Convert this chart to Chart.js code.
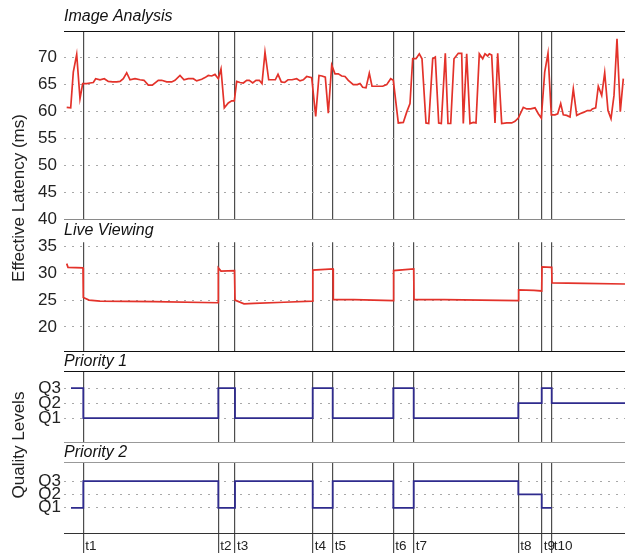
<!DOCTYPE html>
<html>
<head>
<meta charset="utf-8">
<title>Effective latency and quality levels</title>
<script src="https://cdn.jsdelivr.net/npm/chart.js@4.4.1/dist/chart.umd.min.js"></script>
<style>
  html, body { margin: 0; padding: 0; background: #fff; }
  #wrap { position: relative; width: 625px; height: 553px; overflow: hidden; font-family: 'Liberation Sans', Arial, Helvetica, sans-serif; }
  #wrap canvas { position: absolute; left: 0; }
  .axis-title { position: absolute; width: 300px; height: 20px; line-height: 20px; text-align: center; font-size: 17px; color: #222; transform: rotate(-90deg); }
</style>
</head>
<body>
<div id="wrap">
  <canvas id="analysisChart" width="625" height="232" style="top:0"></canvas>
  <canvas id="liveChart" width="625" height="145" style="top:219px"></canvas>
  <canvas id="p1Chart" width="625" height="105" style="top:351px"></canvas>
  <canvas id="p2Chart" width="625" height="111" style="top:442px"></canvas>
  <div class="axis-title" style="left:-131px; top:188px">Effective Latency (ms)</div>
  <div class="axis-title" style="left:-131px; top:435px">Quality Levels</div>
</div>

<script>
// --- donnees (temps en s) ---
const timeMin = 0;
const timeMax = 561;

const eventTimes = [19.3, 154.3, 171, 248.7, 268.7, 329.3, 349.7, 454.3, 477.7, 487.7];
const eventLabels = ['t1', 't2', 't3', 't4', 't5', 't6', 't7', 't8', 't9', 't10'];

const latencyTicksAnalysis = [40, 45, 50, 55, 60, 65, 70];
const latencyTicksLive = [20, 25, 30, 35];
const qualityTicks = [1, 2, 3];
const qualityLabels = ['Q1', 'Q2', 'Q3'];

// Image Analysis
const analysisTime = [
  2.7, 6.7, 9.3, 12.7, 16, 18.7, 22.7, 26, 29.3, 31.7, 36, 40.3, 44.3, 48.7, 52.7, 56, 59.3, 62.7, 66, 71,
  76, 80, 84.3, 88.3, 94.3, 97.7, 102.7, 107.7, 111, 116, 120, 124.3, 129.3, 132.7, 137.7, 141, 144.3, 147.7, 151, 154.3,
  157, 160.3, 164.3, 167.7, 170.3, 172.7, 176, 179.3, 182.7, 185.3, 188.7, 192, 195.3, 198, 201, 204.7, 208.7, 211.3, 214, 217.3,
  220.7, 224, 228, 232.7, 236, 239.3, 242.7, 247.7, 251.7, 255, 258, 261.3, 264.3, 267.7, 271, 274.3, 277.7, 281, 284.3, 289.3,
  293.3, 296, 298.7, 302, 305.3, 308, 312.7, 318.7, 322.7, 326.7, 329.3, 334.3, 339.3, 342.7, 346, 348.7, 352, 355.3, 358, 362,
  364.7, 368.7, 371.3, 374.7, 377.3, 381.3, 384, 386.7, 390, 394.3, 397.7, 399.3, 402.7, 406, 409.3, 412, 415.3, 418.7, 421, 423.7,
  425.3, 427.7, 431, 433.7, 437.7, 442.7, 447.7, 451, 454.3, 459.3, 462.7, 466.7, 471, 474.3, 477.3, 480.7, 484, 487.3, 491, 493.7,
  496.7, 499.3, 502.7, 506, 509.3, 512.7, 516, 520, 523.3, 526.7, 528.3, 531.7, 534.3, 537.7, 540.7, 544, 547, 550, 553, 556.3,
  559.3
];
const analysisLatency = [
  60.7, 60.6, 67.2, 70.5, 62.3, 65.1, 65.1, 65.2, 65.3, 66.0, 65.8, 66.0, 65.5, 65.4, 65.4, 65.5, 66.0, 67.1, 65.8, 66.0,
  65.8, 65.7, 64.8, 64.8, 65.7, 65.7, 65.4, 65.4, 65.7, 66.6, 65.8, 66.0, 66.0, 65.6, 65.9, 66.2, 66.6, 66.5, 66.8, 66.0,
  67.8, 60.6, 61.5, 61.9, 61.9, 65.5, 65.3, 65.2, 65.7, 65.7, 65.2, 65.7, 65.7, 65.1, 70.9, 65.8, 65.8, 65.8, 66.8, 65.4,
  65.3, 65.8, 65.8, 66.0, 65.6, 65.8, 66.4, 66.2, 59.0, 66.6, 66.5, 66.3, 59.6, 68.5, 66.9, 66.9, 66.5, 66.4, 65.7, 64.9,
  64.9, 65.1, 64.4, 64.3, 67.0, 64.6, 64.6, 64.6, 64.9, 66.0, 65.7, 57.8, 57.9, 59.8, 61.4, 69.7, 69.7, 70.6, 69.7, 57.8,
  57.7, 69.7, 70.0, 57.8, 57.7, 70.7, 57.7, 57.7, 69.7, 70.7, 70.7, 57.7, 70.6, 57.7, 57.9, 57.8, 70.6, 69.7, 70.6, 70.2,
  70.6, 70.4, 57.8, 70.7, 57.7, 57.8, 57.8, 58.1, 58.7, 60.7, 60.4, 60.4, 60.6, 59.5, 58.7, 67.2, 70.7, 59.3, 59.3, 59.5,
  61.4, 59.3, 59.2, 58.9, 64.1, 59.2, 59.5, 59.8, 60.1, 60.1, 60.4, 60.6, 64.6, 62.9, 67.1, 60.1, 58.6, 62.9, 73.4, 59.9,
  66.0
];

// Live Viewing
const liveTime = [
  2.7, 4, 19, 19.3, 25, 36, 90, 154, 154.3, 157, 170.5, 171, 180, 190, 220, 248.5, 248.8, 269, 269.3, 290,
  329.3, 329.6, 349.7, 350, 380, 454.3, 454.6, 470, 477.7, 478, 487.7, 488, 520, 561
];
const liveLatency = [
  31.8, 31.1, 31.0, 25.5, 25.0, 24.8, 24.7, 24.5, 31.0, 30.4, 30.5, 25.0, 24.3, 24.4, 24.6, 24.8, 30.6, 30.8, 25.1, 25.1,
  24.9, 30.5, 30.8, 25.1, 25.1, 24.9, 26.9, 26.8, 26.7, 31.2, 31.1, 28.2, 28.1, 28.0
];

// Niveaux de qualite (1 = Q1, 3 = Q3)
const priority1Time = [7, 19.3, 154.3, 171, 248.7, 268.7, 329.3, 349.7, 454.3, 477.7, 487.7, 561];
const priority1Level = [3, 1, 3, 1, 3, 1, 3, 1, 2, 3, 2, 2];
const priority2Time = [7, 19.3, 154.3, 171, 248.7, 268.7, 329.3, 349.7, 454.3, 477.7, 487.7];
const priority2Level = [1, 3, 1, 3, 1, 3, 1, 3, 2, 1, 1];

// --- rendu ---
const FONT = "'Liberation Sans', Arial, Helvetica, sans-serif";
const RED = '#e3322a';
const BLUE = '#2f2b8d';

function toPoints(xs, ys) {
    return xs.map((x, i) => ({ x: x, y: ys[i] }));
}

// bordures haut/bas de chaque panneau
const panelFrame = {
    id: 'panelFrame',
    afterDraw(chart, args, opts) {
        const a = chart.chartArea;
        const ctx = chart.ctx;
        ctx.save();
        ctx.lineWidth = 1.2;
        [['top', a.top], ['bottom', a.bottom]].forEach(([side, y]) => {
            if (!opts[side]) return;
            const py = Math.round(y) + 0.5;
            ctx.strokeStyle = opts[side];
            ctx.beginPath();
            ctx.moveTo(a.left, py);
            ctx.lineTo(a.right, py);
            ctx.stroke();
        });
        ctx.restore();
    }
};
Chart.register(panelFrame);

function makePanel(id, cfg) {
    return new Chart(document.getElementById(id), {
        type: 'line',
        data: { datasets: cfg.datasets },
        options: {
            responsive: false,
            animation: false,
            events: [],
            layout: { padding: { top: 0, right: 0, bottom: cfg.padBottom, left: 0 } },
            elements: { point: { radius: 0 }, line: { tension: 0 } },
            scales: {
                x: {
                    type: 'linear',
                    min: timeMin,
                    max: timeMax,
                    afterBuildTicks: s => { s.ticks = eventTimes.map(v => ({ value: v })); },
                    afterFit: s => { s.height = cfg.showEvents ? 20 : 0; },
                    grid: {
                        color: '#4d4d4d',
                        lineWidth: 1.2,
                        drawTicks: !!cfg.showEvents,
                        tickLength: 20,
                        tickColor: '#4d4d4d',
                        tickWidth: 1.2
                    },
                    border: { display: false },
                    ticks: {
                        display: !!cfg.showEvents,
                        autoSkip: false,
                        maxRotation: 0,
                        align: 'start',
                        labelOffset: 2,
                        padding: -15,
                        color: '#222',
                        font: { family: FONT, size: 13.5 },
                        callback: (v, i) => eventLabels[i]
                    }
                },
                y: {
                    min: cfg.yMin,
                    max: cfg.yMax,
                    afterBuildTicks: s => { s.ticks = cfg.yTicks.map(v => ({ value: v })); },
                    // largeur fixe pour aligner les panneaux, pas de marge auto pour les labels
                    afterFit: s => { s.width = 64; s.paddingTop = 0; s.paddingBottom = 0; },
                    grid: { color: '#a8a8a8', lineWidth: 1, drawTicks: false },
                    border: { display: false, dash: [2, 6] },
                    ticks: {
                        padding: cfg.yPad,
                        color: '#222',
                        font: { family: FONT, size: 17 },
                        callback: cfg.yLabel
                    }
                }
            },
            plugins: {
                legend: { display: false },
                tooltip: { enabled: false },
                title: {
                    display: true,
                    text: cfg.title,
                    align: 'start',
                    fullSize: false,
                    color: '#111',
                    font: { family: FONT, size: 16, style: 'italic', weight: 'normal' },
                    padding: cfg.titlePad
                },
                panelFrame: cfg.frame
            }
        }
    });
}

makePanel('analysisChart', {
    title: 'Image Analysis',
    titlePad: { top: 7, bottom: 5 },
    padBottom: 13,
    yMin: 40, yMax: 74.8,
    yTicks: latencyTicksAnalysis,
    yPad: 7,
    yLabel: v => v,
    frame: { top: '#111', bottom: '#8a8a8a' },
    datasets: [{ data: toPoints(analysisTime, analysisLatency), borderColor: RED, borderWidth: 1.7 }]
});

makePanel('liveChart', {
    title: 'Live Viewing',
    titlePad: { top: 2, bottom: 2 },
    padBottom: 13,
    yMin: 15.5, yMax: 35.8,
    yTicks: latencyTicksLive,
    yPad: 7,
    yLabel: v => v,
    frame: { bottom: '#111' },
    datasets: [{ data: toPoints(liveTime, liveLatency), borderColor: RED, borderWidth: 1.7 }]
});

makePanel('p1Chart', {
    title: 'Priority 1',
    titlePad: { top: 1, bottom: 0 },
    padBottom: 14,
    yMin: -0.6, yMax: 4.13,
    yTicks: qualityTicks,
    yPad: 3,
    yLabel: v => qualityLabels[v - 1],
    frame: { top: '#111', bottom: '#999' },
    datasets: [{ data: toPoints(priority1Time, priority1Level), borderColor: BLUE, borderWidth: 1.8, stepped: true }]
});

makePanel('p2Chart', {
    title: 'Priority 2',
    titlePad: { top: 1, bottom: 0 },
    padBottom: 0,
    showEvents: true,
    yMin: -0.89, yMax: 4.42,
    yTicks: qualityTicks,
    yPad: 3,
    yLabel: v => qualityLabels[v - 1],
    frame: { top: '#999', bottom: '#333' },
    datasets: [{ data: toPoints(priority2Time, priority2Level), borderColor: BLUE, borderWidth: 1.8, stepped: true }]
});
</script>
</body>
</html>
